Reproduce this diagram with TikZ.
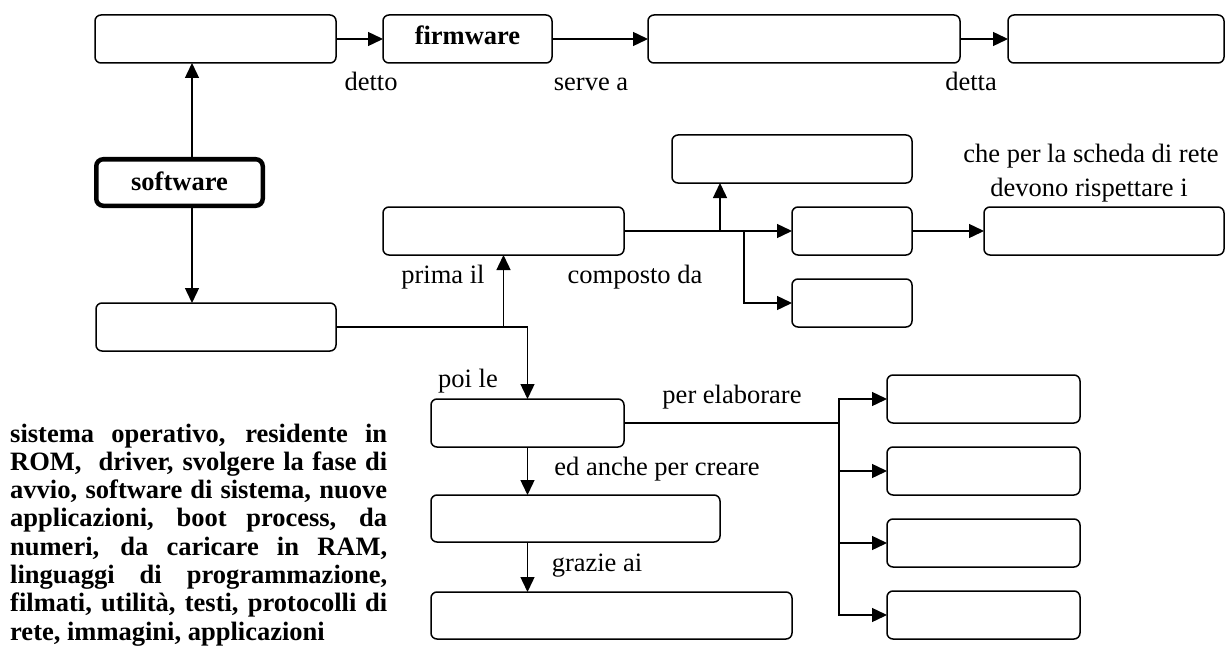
\documentclass[tikz,border=0pt]{standalone}
\usepackage{fontspec}
\setmainfont{Liberation Serif}
\usetikzlibrary{arrows.meta}
\newcommand\fsz{\fontsize{26.5}{28.3}\selectfont}
\tikzset{
  box/.style={draw, rounded corners=6pt, line width=1.5pt, inner sep=0pt, outer sep=0pt, font=\fsz},
  bigbox/.style={box, line width=4.5pt, rounded corners=7pt},
  lbl/.style={inner sep=0pt, font=\fsz, anchor=base},
  ln/.style={line width=1.4pt},
  arr/.style={ln, -{Triangle[length=15pt,width=14pt]}},
  arrtwo/.style={ln, {Triangle[length=15pt,width=14pt]}-{Triangle[length=15pt,width=14pt]}},
}
\begin{document}
\begin{tikzpicture}[x=1pt,y=-1pt]
\useasboundingbox (0,0) rectangle (1226,658);
% top row
\node[box, minimum width=241pt, minimum height=48pt] (A) at (215.5,39) {};
\node[box, minimum width=169pt, minimum height=48pt, font=\fsz\bfseries, text depth=8pt] (firm) at (467.5,39) {firmware};
\node[box, minimum width=312pt, minimum height=48pt] (C) at (804,39) {};
\node[box, minimum width=216pt, minimum height=48pt] (D) at (1116,39) {};
% left column
\node[bigbox, minimum width=166.5pt, minimum height=46.5pt, font=\fsz\bfseries, text depth=3pt] (soft) at (179.5,182.5) {software};
\node[box, minimum width=240pt, minimum height=48pt] (E) at (216,327) {};
% middle
\node[box, minimum width=241pt, minimum height=48pt] (F) at (503.5,231) {};
\node[box, minimum width=240pt, minimum height=48pt] (G) at (792,159) {};
\node[box, minimum width=120pt, minimum height=48pt] (H) at (852,231) {};
\node[box, minimum width=120pt, minimum height=48pt] (I) at (852,303) {};
\node[box, minimum width=240pt, minimum height=48pt] (J) at (1104,231) {};
% lower
\node[box, minimum width=193pt, minimum height=48pt] (K) at (527.5,423) {};
\node[box, minimum width=289pt, minimum height=47pt] (L) at (575.5,518.5) {};
\node[box, minimum width=361pt, minimum height=47pt] (M) at (611.5,615.5) {};
\node[box, minimum width=193pt, minimum height=48pt] (R1) at (983.5,399) {};
\node[box, minimum width=193pt, minimum height=48pt] (R2) at (983.5,471) {};
\node[box, minimum width=193pt, minimum height=48pt] (R3) at (983.5,543) {};
\node[box, minimum width=193pt, minimum height=48pt] (R4) at (983.5,615) {};
% labels
\node[lbl] (l1) at (371,91) {detto};
\node[lbl] (l2) at (591,91) {serve a};
\node[lbl] (l3) at (971,91) {detta};
\node[lbl] (l4) at (1091,162) {che per la scheda di rete};
\node[lbl] (l5) at (1089,196) {devono rispettare i};
\node[lbl] (l6) at (443,283) {prima il};
\node[lbl] (l7) at (635,283) {composto da};
\node[lbl] (l8) at (468,387) {poi le};
\node[lbl] (l9) at (732,403) {per elaborare};
\node[lbl] (l10) at (657,475) {ed anche per creare};
\node[lbl] (l11) at (597,571) {grazie ai};
% word list
\node[anchor=base west, inner sep=0pt, text width=377pt, align=justify, font=\fsz\bfseries] (words) at (10,442)
 {\tolerance=9999\emergencystretch=20pt sistema operativo, residente in\linebreak
  ROM,~ driver, svolgere la fase di\linebreak
  avvio, software di sistema, nuove\linebreak
  applicazioni, boot process, da\linebreak
  numeri, da caricare in RAM,\linebreak
  linguaggi di programmazione,\linebreak
  filmati, utilità, testi, protocolli di\linebreak
  rete, immagini, applicazioni};
% helper coordinates
\coordinate (xs) at (192,0);
\coordinate (gx) at (720,0);
\coordinate (bx) at (744,0);
\coordinate (vx) at (839,0);
\coordinate (j1) at (F.south |- E.east);
\coordinate (j2) at (K.north |- E.east);
% connectors
\draw[arr] (A.east) -- (firm.west);
\draw[arr] (firm.east) -- (C.west);
\draw[arr] (C.east) -- (D.west);
\draw[arr] (soft.north -| xs) -- (A.south -| xs);
\draw[arr] (soft.south -| xs) -- (E.north -| xs);
\draw[arr] (E.east) -- (j2) -- (K.north);
\draw[arr] (j1) -- (F.south);
\draw[arr] (F.east) -- (H.west);
\draw[arr] (F.east -| gx) -- (G.south -| gx);
\draw[arr] (F.east -| bx) -- (I.west -| bx) -- (I.west);
\draw[arr] (H.east) -- (J.west);
\draw[ln] (K.east) -- (K.east -| vx);
\draw[arrtwo] (R1.west) -- (R1.west -| vx) -- (R4.west -| vx) -- (R4.west);
\draw[arr] (R2.west -| vx) -- (R2.west);
\draw[arr] (R3.west -| vx) -- (R3.west);
\draw[arr] (K.south) -- (K.south |- L.north);
\draw[arr] (L.south -| K.south) -- (K.south |- M.north);
\end{tikzpicture}
\end{document}
